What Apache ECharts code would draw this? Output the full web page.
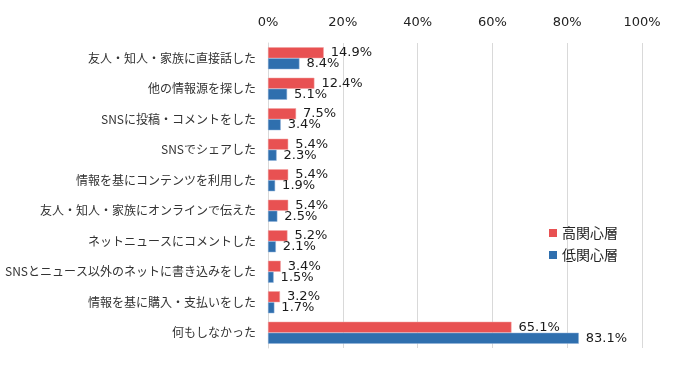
<!DOCTYPE html>
<html><head><meta charset="utf-8">
<script src="https://cdn.jsdelivr.net/npm/echarts@6/dist/echarts.min.js"></script>
<style>html,body{margin:0;padding:0;background:#fff}#c{width:678px;height:371px}</style>
</head><body><div id="c"></div>
<script>
const categories = ["友人・知人・家族に直接話した","他の情報源を探した","SNSに投稿・コメントをした","SNSでシェアした","情報を基にコンテンツを利用した","友人・知人・家族にオンラインで伝えた","ネットニュースにコメントした","SNSとニュース以外のネットに書き込みをした","情報を基に購入・支払いをした","何もしなかった"];
const seriesNames = ["高関心層","低関心層"];
const highValues = [14.9,12.4,7.5,5.4,5.4,5.4,5.2,3.4,3.2,65.1];
const lowValues = [8.4,5.1,3.4,2.3,1.9,2.5,2.1,1.5,1.7,83.1];
const colors = ["#e85152","#2f6fae"];
const chart = echarts.init(document.getElementById('c'));
const font = "'DejaVu Sans','Noto Sans CJK JP',sans-serif";
const mkLabel = {show:true, position:'right', distance:7, color:'#1a1a1a', fontSize:13, fontFamily:font,
  formatter: p => p.value.toFixed(1) + '%'};
chart.setOption({
  animation:false,
  textStyle:{fontFamily:font},
  grid:{left:268, right:36, top:43, bottom:23, containLabel:false},
  legend:{orient:'vertical', left:544, top:221, itemWidth:8, itemHeight:8, itemGap:8,
    icon:'rect', itemStyle:{borderWidth:0},
    textStyle:{fontSize:14, color:'#222', fontFamily:"'Noto Sans CJK JP',sans-serif"},
    data:seriesNames},
  xAxis:{type:'value', position:'top', min:0, max:100, interval:20,
    axisLabel:{formatter:'{value}%', fontSize:13, color:'#222', margin:14, fontFamily:font},
    axisLine:{show:false}, axisTick:{show:false},
    splitLine:{show:true, lineStyle:{color:'#d9d9d9', width:1}}},
  yAxis:{type:'category', inverse:true, data:categories,
    axisLabel:{fontSize:12, color:'#333', margin:12, fontFamily:"'Noto Sans CJK JP',sans-serif"},
    axisLine:{show:true, lineStyle:{color:'#d9d9d9'}}, axisTick:{show:false}},
  series:[
    {name:seriesNames[0], type:'bar', data:highValues, barWidth:11, barGap:'0%',
     itemStyle:{color:colors[0], borderColor:'#f0a0a0', borderWidth:0.5}, label:mkLabel},
    {name:seriesNames[1], type:'bar', data:lowValues, barWidth:11, barGap:'0%',
     itemStyle:{color:colors[1], borderColor:'#8fb0d8', borderWidth:0.5}, label:mkLabel}
  ]
});
</script></body></html>
